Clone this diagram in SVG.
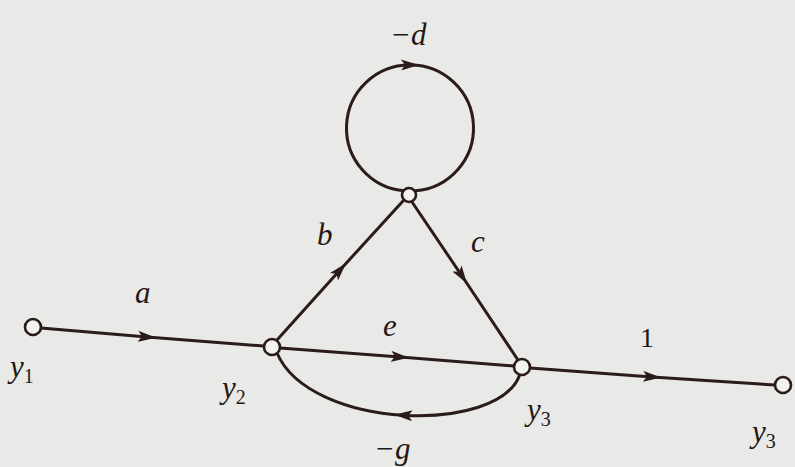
<svg xmlns="http://www.w3.org/2000/svg" width="795" height="467" viewBox="0 0 795 467">
<style>
.e{fill:none;stroke:#2b1b19;stroke-width:3;stroke-linecap:round}
.n{fill:#f3f3f1;stroke:#2b1b19;stroke-width:2.6}
.t{font-family:"Liberation Serif",serif;font-style:italic;font-size:31px;fill:#241816}
.s{font-style:normal;font-size:20px}
</style>
<defs>
<marker id="ar" viewBox="0 0 18 11" refX="9" refY="5.5" markerWidth="18" markerHeight="11" markerUnits="userSpaceOnUse" orient="auto">
<path d="M0 0 L18 5.5 L0 11 L4 5.5 Z" fill="#2b1b19"/>
</marker>
</defs>
<rect width="795" height="467" fill="#e9e9e7"/>
<g id="connectors">
<polyline class="e" points="41,328 147,337 264,346" marker-mid="url(#ar)"/>
<polyline class="e" points="280,348 400,357 514,366" marker-mid="url(#ar)"/>
<polyline class="e" points="277,340 340,270 403,201" marker-mid="url(#ar)"/>
<polyline class="e" points="412,202 462,276 518,360" marker-mid="url(#ar)"/>
<polyline class="e" points="530,368 652,377 775,385" marker-mid="url(#ar)"/>
<path class="e" d="M520 374 C510 404.5 457.5 418.5 403.4 415.25 C349.25 412 293.5 391.5 277 353" marker-mid="url(#ar)"/>
<path class="e" d="M404.5 190.8 A63 63 0 0 1 410 65 A63 63 0 0 1 415.5 190.8" marker-mid="url(#ar)"/>
</g>
<g id="y1"><circle class="n" cx="33" cy="327" r="8"/><text class="t" x="10" y="377">y<tspan class="s" dy="6">1</tspan></text></g>
<g id="y2"><circle class="n" cx="272" cy="347" r="8"/><text class="t" x="222" y="398">y<tspan class="s" dy="6">2</tspan></text></g>
<g id="y3"><circle class="n" cx="522" cy="367" r="8"/><text class="t" x="527" y="420">y<tspan class="s" dy="6">3</tspan></text></g>
<g id="mid"><circle class="n" cx="409" cy="195" r="7"/></g>
<g id="y3out"><circle class="n" cx="783" cy="385" r="8"/><text class="t" x="752" y="442">y<tspan class="s" dy="6">3</tspan></text></g>
<g id="labels">
<text class="t" x="135" y="303">a</text>
<text class="t" x="317" y="245">b</text>
<text class="t" x="471" y="252">c</text>
<text class="t" x="383" y="336">e</text>
<text class="t" x="640" y="347" style="font-style:normal;font-size:28px">1</text>
<text class="t" x="390" y="45">−d</text>
<text class="t" x="374" y="459">−g</text>
</g>
</svg>
